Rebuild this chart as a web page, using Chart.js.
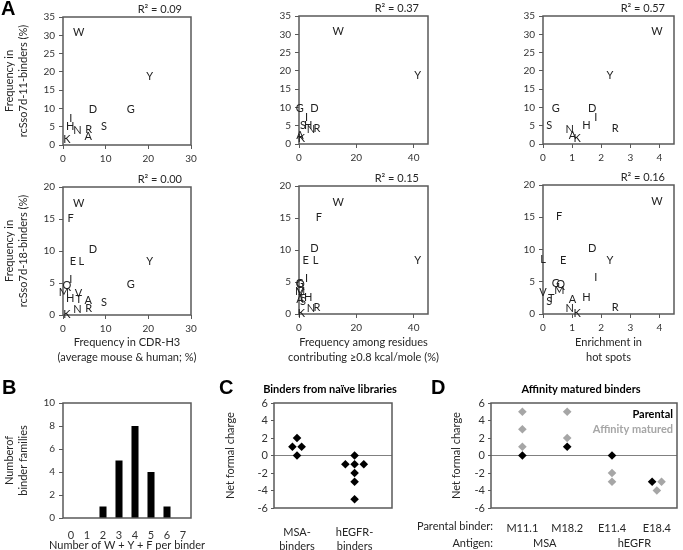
<!DOCTYPE html>
<html>
<head>
<meta charset="utf-8">
<script src="https://cdn.jsdelivr.net/npm/chart.js@4.4.0/dist/chart.umd.min.js"></script>
<style>
  body { margin: 0; background: #fff; width: 683px; height: 550px; position: relative; overflow: hidden; font-family: Lato, sans-serif; }
  canvas { position: absolute; }
  .tag { position: absolute; font: bold 20px 'Liberation Sans', Arial, sans-serif; line-height: 20px; color: #000; }
</style>
</head>
<body>
<canvas id="a1"></canvas><canvas id="a2"></canvas><canvas id="a3"></canvas>
<canvas id="a4"></canvas><canvas id="a5"></canvas><canvas id="a6"></canvas>
<canvas id="b"></canvas><canvas id="c"></canvas><canvas id="d"></canvas>
<div class="tag" style="left:1px;top:-2px">A</div>
<div class="tag" style="left:2px;top:377px">B</div>
<div class="tag" style="left:219px;top:377px">C</div>
<div class="tag" style="left:431px;top:377px">D</div>
<script>
// ---- panel A: residue frequencies ----
const aminoAcids    = ['W', 'Y', 'F', 'D', 'E', 'L', 'G', 'I', 'Q', 'M', 'V', 'H', 'T', 'S', 'N', 'R', 'A', 'K'];
const cdrH3Freq     = [3.7, 20.3, 1.8, 7.0, 2.3, 4.3, 15.9, 1.8, 0.9, 0.2, 3.6, 1.7, 3.7, 9.6, 3.4, 6.0, 5.9, 0.9];
const hotSpotFreq   = [13.7, 41.4, 6.9, 5.4, 2.35, 5.75, 0.3, 2.6, 0.5, 0.4, 0.5, 3.2, 1.0, 1.4, 4.2, 6.3, 0.3, 0.8];
const hotSpotEnrich = [3.91, 2.30, 0.55, 1.69, 0.69, 0.0, 0.44, 1.81, 0.61, 0.56, 0.0, 1.49, 0.28, 0.21, 0.92, 2.48, 1.01, 1.17];
const freq11        = [30.8, 18.8, null, 9.8, null, null, 9.6, 7.2, null, null, null, 5.0, null, 5.2, 4.0, 4.3, 2.4, 1.6];
const freq18        = [17.5, 8.3, 15.1, 10.2, 8.3, 8.4, 4.8, 5.6, 4.6, 3.6, 3.3, 2.6, 2.4, 2.0, 0.9, 1.0, 2.2, 0.1];
const r2Top    = ['0.09', '0.37', '0.57'];
const r2Bottom = ['0.00', '0.15', '0.16'];

// ---- panel B ----
const wyfCounts      = ['0', '1', '2', '3', '4', '5', '6', '7'];
const binderFamilies = [0, 0, 1, 5, 8, 4, 1, 0];

// ---- panel C ----
const naiveGroups = [['MSA-', 'binders'], ['hEGFR-', 'binders']];
const msaCharge   = [2, 1, 1, 0];
const egfrCharge  = [0, -1, -1, -1, -2, -3, -5];

// ---- panel D ----
const parentalBinders = ['M11.1', 'M18.2', 'E11.4', 'E18.4'];
const antigens        = ['MSA', 'hEGFR'];
const parentalCharge  = [0, 1, 0, -3];
const maturedCharge   = [[1, 3, 5], [2, 5], [-2, -3], [-3, -4]];

Chart.defaults.font.family = 'Lato, sans-serif';
Chart.defaults.color = '#262626';
Chart.defaults.plugins.legend.display = false;
Chart.defaults.plugins.tooltip.enabled = false;
Chart.defaults.animation = false;

const AXIS = '#595959';
const GREY = '#a6a6a6';

// box round the plot area
const frame = {
  id: 'frame',
  beforeDatasetsDraw(chart) {
    const a = chart.chartArea, ctx = chart.ctx;
    ctx.save();
    ctx.strokeStyle = AXIS;
    ctx.lineWidth = 1.5;
    ctx.strokeRect(a.left, a.top, a.right - a.left, a.bottom - a.top);
    ctx.restore();
  }
};

// amino acid letters drawn at the point positions
const letters = {
  id: 'letters',
  afterDatasetsDraw(chart) {
    const ctx = chart.ctx;
    ctx.save();
    ctx.font = '11px Lato';
    ctx.fillStyle = '#222';
    ctx.textAlign = 'center';
    ctx.textBaseline = 'middle';
    chart.data.datasets.forEach(function(ds, i) {
      if (!ds.letters) return;
      chart.getDatasetMeta(i).data.forEach(function(pt, j) {
        ctx.fillText(ds.letters[j], pt.x, pt.y);
      });
    });
    ctx.restore();
  }
};

function notes(fn) {
  return {
    id: 'notes',
    afterDraw(chart) {
      const ctx = chart.ctx;
      ctx.save();
      fn(ctx, chart.chartArea, chart.scales);
      ctx.restore();
    }
  };
}

function text(ctx, s, x, y, font, color, align) {
  ctx.font = font;
  ctx.fillStyle = color || '#262626';
  ctx.textAlign = align || 'center';
  ctx.textBaseline = 'middle';
  ctx.fillText(s, x, y);
}

// canvas placed so that the chart area lands on plot
function panel(id, plot, m, cfg) {
  const c = document.getElementById(id);
  c.width = plot.r - plot.l + m.l + m.r;
  c.height = plot.b - plot.t + m.t + m.b;
  c.style.left = (plot.l - m.l) + 'px';
  c.style.top = (plot.t - m.t) + 'px';
  cfg.options.responsive = false;
  cfg.options.layout = { padding: { top: m.t, right: m.r, left: 0, bottom: 0 } };
  cfg.options.scales.x.afterFit = function(s) { s.height = m.b; };
  cfg.options.scales.y.afterFit = function(s) { s.width = m.l; };
  return new Chart(c, cfg);
}

function valueAxis(min, max, step, extra) {
  return Object.assign({
    type: 'linear', min: min, max: max,
    ticks: { stepSize: step, includeBounds: false, padding: 4, font: { size: 10 }, color: '#333' },
    grid: { drawOnChartArea: false, tickLength: 4, color: AXIS },
    border: { display: false }
  }, extra || {});
}

function axisTitle(txt, pad) {
  return { display: true, text: txt, color: '#262626', font: { size: 11, lineHeight: 1.3 }, padding: pad };
}

function scatter(id, plot, m, xVals, yVals, xMax, xStep, yMax, r2, xTitle, yTitle) {
  const pts = [], labs = [];
  aminoAcids.forEach(function(aa, i) {
    if (yVals[i] === null) return;
    pts.push({ x: xVals[i], y: yVals[i] });
    labs.push(aa);
  });
  const ys = valueAxis(0, yMax, 5);
  if (yTitle) ys.title = axisTitle(yTitle, { top: 1.9, bottom: 0 });
  const titleY = 342 - plot.b;
  return panel(id, plot, m, {
    type: 'scatter',
    data: { datasets: [{ data: pts, letters: labs, pointRadius: 0 }] },
    options: { scales: { x: valueAxis(0, xMax, xStep), y: ys } },
    plugins: [frame, letters, notes(function(ctx, a) {
      text(ctx, 'R\u00b2 = ' + r2, a.right - 9, a.top - 8, '11px Lato', '#262626', 'right');
      if (xTitle) {
        xTitle.forEach(function(line, i) {
          text(ctx, line, (a.left + a.right) / 2, a.bottom + titleY + i * 15, '11px Lato');
        });
      }
    })]
  });
}

scatter('a1', { l: 63, r: 191, t: 17, b: 145 }, { l: 63, t: 17, r: 10, b: 22 }, cdrH3Freq, freq11, 30, 10, 35, r2Top[0],
  null, ['Frequency in', 'rcSso7d-11-binders (%)']);
scatter('a2', { l: 299, r: 428, t: 16, b: 144 }, { l: 59, t: 16, r: 12, b: 22 }, hotSpotFreq, freq11, 45, 20, 35, r2Top[1]);
scatter('a3', { l: 543, r: 674, t: 16, b: 144 }, { l: 53, t: 16, r: 9, b: 22 }, hotSpotEnrich, freq11, 4.5, 1, 35, r2Top[2]);

scatter('a4', { l: 63, r: 191, t: 187, b: 315 }, { l: 63, t: 19, r: 10, b: 52 }, cdrH3Freq, freq18, 30, 10, 20, r2Bottom[0],
  ['Frequency in CDR-H3', '(average mouse & human; %)'], ['Frequency in', 'rcSso7d-18-binders (%)']);
scatter('a5', { l: 299, r: 428, t: 186, b: 314 }, { l: 59, t: 18, r: 12, b: 53 }, hotSpotFreq, freq18, 45, 20, 20, r2Bottom[1],
  ['Frequency among residues', 'contributing \u22650.8 kcal/mole (%)']);
scatter('a6', { l: 543, r: 674, t: 185, b: 314 }, { l: 53, t: 17, r: 9, b: 53 }, hotSpotEnrich, freq18, 4.5, 1, 20, r2Bottom[2],
  ['Enrichment in', 'hot spots']);

// ---- B: histogram ----
panel('b', { l: 63, r: 191, t: 403, b: 518 }, { l: 63, t: 10, r: 22, b: 32 }, {
  type: 'bar',
  data: { labels: wyfCounts, datasets: [{ data: binderFamilies, backgroundColor: '#000', categoryPercentage: 1, barPercentage: 0.44 }] },
  options: {
    scales: {
      x: {
        type: 'category',
        ticks: { padding: 3, font: { size: 11 }, color: '#333' },
        grid: { display: false },
        border: { display: false }
      },
      y: valueAxis(0, 10, 2, { title: axisTitle(['Numberof', 'binder families'], { top: 1.9, bottom: 0 }) })
    }
  },
  plugins: [frame, notes(function(ctx, a) {
    text(ctx, 'Number of W + Y + F per binder', (a.left + a.right) / 2, a.bottom + 27, '11px Lato');
  })]
});

// spread points sharing a value side by side
function jitter(pos, lists, gap) {
  const total = {}, seen = {};
  lists.forEach(function(l) { l.forEach(function(v) { total[v] = (total[v] || 0) + 1; }); });
  return lists.map(function(l) {
    return l.map(function(v) {
      const k = seen[v] || 0;
      seen[v] = k + 1;
      return { x: pos + (k - (total[v] - 1) / 2) * gap, y: v };
    });
  });
}

function chargeAxis(pad, labelFor, min, max, count, titlePad) {
  return {
    x: {
      type: 'linear', min: min, max: max,
      afterBuildTicks: function(s) {
        s.ticks = [];
        for (let i = 1; i <= count; i++) s.ticks.push({ value: i });
      },
      ticks: { padding: pad, font: { size: 11, lineHeight: 1.27 }, color: '#262626', callback: function(v) { return labelFor(v); } },
      grid: { display: false },
      border: { display: false }
    },
    y: valueAxis(-6, 6, 2, {
      grid: {
        drawOnChartArea: true, tickLength: 3, tickColor: AXIS,
        color: function(c) { return c.tick && c.tick.value === 0 ? '#808080' : 'rgba(0,0,0,0)'; }
      },
      ticks: { stepSize: 2, padding: 3, font: { size: 11 }, color: '#333' },
      title: axisTitle('Net formal charge', { top: titlePad, bottom: 0 })
    })
  };
}

// ---- C: naive binders ----
const cPts = jitter(1, [msaCharge], 0.16)[0].concat(jitter(2, [egfrCharge], 0.16)[0]);
panel('c', { l: 274, r: 392, t: 403, b: 508 }, { l: 52, t: 25, r: 10, b: 42 }, {
  type: 'scatter',
  data: { datasets: [{ data: cPts, pointStyle: 'rectRot', pointRadius: 4.3, backgroundColor: '#000', borderWidth: 0 }] },
  options: { scales: chargeAxis(9, function(v) { return naiveGroups[v - 1]; }, 0.6, 2.65, 2, 0.9) },
  plugins: [frame, notes(function(ctx, a) {
    text(ctx, 'Binders from na\u00efve libraries', (a.left + a.right) / 2 - 3, a.top - 14, 'bold 11px Lato', '#000');
  })]
});

// ---- D: affinity matured ----
const dParental = [], dMatured = [];
parentalBinders.forEach(function(name, i) {
  const r = jitter(i + 1, [[parentalCharge[i]], maturedCharge[i]], 0.21);
  dParental.push.apply(dParental, r[0]);
  dMatured.push.apply(dMatured, r[1]);
});
panel('d', { l: 491, r: 677, t: 403, b: 508 }, { l: 86, t: 25, r: 6, b: 42 }, {
  type: 'scatter',
  data: {
    datasets: [
      { data: dMatured, pointStyle: 'rectRot', pointRadius: 4.3, backgroundColor: GREY, borderWidth: 0 },
      { data: dParental, pointStyle: 'rectRot', pointRadius: 4.3, backgroundColor: '#000', borderWidth: 0 }
    ]
  },
  options: { scales: chargeAxis(5, function(v) { return parentalBinders[v - 1]; }, 0.3, 4.45, 4, 44.5) },
  plugins: [frame, notes(function(ctx, a, s) {
    text(ctx, 'Affinity matured binders', (a.left + a.right) / 2 - 3, a.top - 14, 'bold 11px Lato', '#000');
    text(ctx, 'Parental', a.right - 4, a.top + 11, 'bold 11px Lato', '#000', 'right');
    text(ctx, 'Affinity matured', a.right - 4, a.top + 26, 'bold 11px Lato', GREY, 'right');
    text(ctx, 'Parental binder:', a.left + 2, a.bottom + 18, '11px Lato', '#262626', 'right');
    text(ctx, 'Antigen:', a.left + 2, a.bottom + 35, '11px Lato', '#262626', 'right');
    antigens.forEach(function(ag, i) {
      text(ctx, ag, s.x.getPixelForValue(2 * i + 1.5), a.bottom + 35, '11px Lato', '#262626');
    });
  })]
});
</script>
</body>
</html>
